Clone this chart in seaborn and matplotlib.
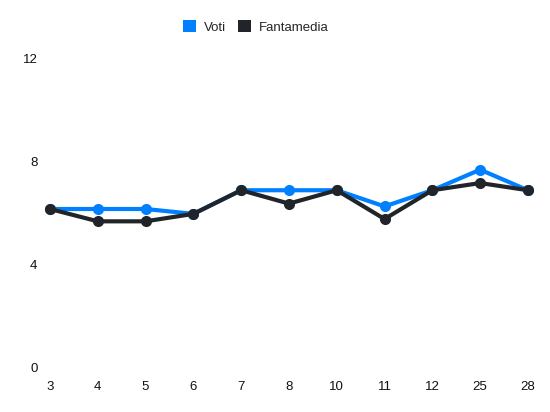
import pandas as pd
import numpy as np
import matplotlib
matplotlib.use('Agg')
import matplotlib.pyplot as plt
import seaborn as sns
from matplotlib.patches import Patch

# Dati
giornate = ['3', '4', '5', '6', '7', '8', '10', '11', '12', '25', '28']
voti = [6.16, 6.16, 6.16, 5.97, 6.89, 6.89, 6.89, 6.26, 6.89, 7.69, 6.89]
fantamedia = [6.16, 5.68, 5.68, 5.97, 6.89, 6.37, 6.89, 5.77, 6.89, 7.17, 6.89]
serie = ['Voti', 'Fantamedia']
colori = ['#0080ff', '#212529']
y_ticks = [0, 4, 8, 12]

sns.set_style('white')
plt.rcParams['font.family'] = ['Liberation Sans', 'DejaVu Sans']

df = pd.DataFrame({
    'pos': list(range(len(giornate))) * 2,
    'valore': voti + fantamedia,
    'serie': ['Voti'] * len(voti) + ['Fantamedia'] * len(fantamedia),
})

fig = plt.figure(figsize=(5.5, 4.12), dpi=100)
ax = fig.add_axes([0.0909, 0.1085, 0.869, 0.7485])

sns.lineplot(data=df, x='pos', y='valore', hue='serie', hue_order=serie,
             palette=colori, marker='o', markersize=8, markeredgewidth=0,
             linewidth=3, legend=False, ax=ax)

ax.set_xlim(0, len(giornate) - 1)
ax.set_ylim(0, 12)
ax.set_xticks(range(len(giornate)))
ax.set_xticklabels(giornate)
ax.set_yticks(y_ticks)
ax.set_xlabel('')
ax.set_ylabel('')
ax.tick_params(axis='both', length=0, labelsize=9.5, colors='#111111')
ax.tick_params(axis='y', pad=9)
ax.tick_params(axis='x', pad=10)
for s in ax.spines.values():
    s.set_visible(False)
for l in ax.lines:
    l.set_clip_on(False)

handles = [Patch(facecolor=c, edgecolor='none', label=n) for n, c in zip(serie, colori)]
fig.legend(handles=handles, loc='center', bbox_to_anchor=(0.465, 0.934), ncol=2,
           frameon=False, fontsize=9.5, handlelength=1.0, handleheight=1.0,
           handletextpad=0.6, columnspacing=0.9)

fig.savefig('out.png', dpi=100)
